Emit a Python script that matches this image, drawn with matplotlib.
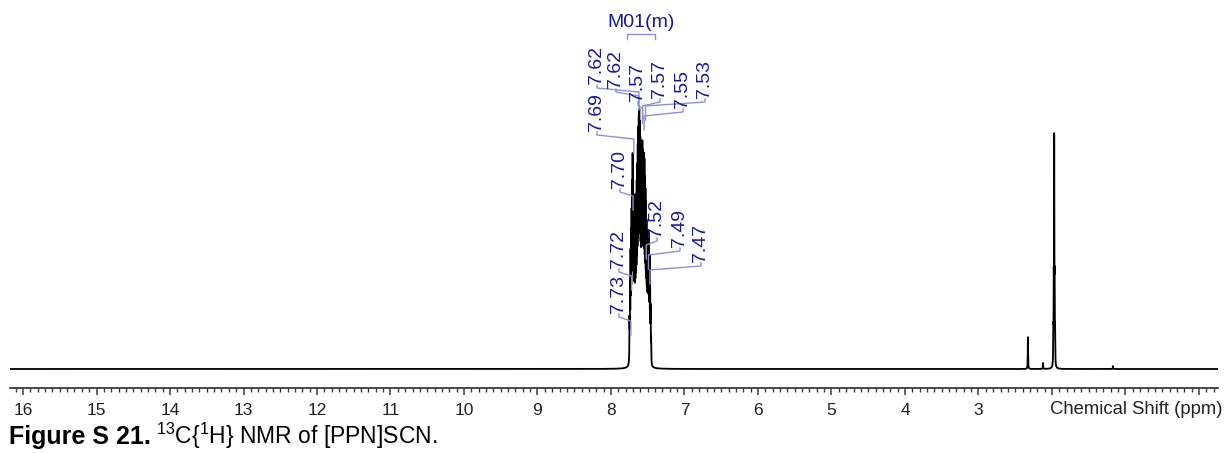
import numpy as np
import matplotlib
matplotlib.use("Agg")
import matplotlib.pyplot as plt
from matplotlib.ticker import FixedLocator, MultipleLocator, FuncFormatter

plt.rcParams['font.family'] = ['Liberation Sans', 'DejaVu Sans']
plt.rcParams['mathtext.fontset'] = 'custom'
plt.rcParams['mathtext.rm'] = 'Liberation Sans'
plt.rcParams['mathtext.it'] = 'Liberation Sans:italic'
plt.rcParams['mathtext.bf'] = 'Liberation Sans:bold'

# --- data (ppm, intensity in arbitrary units) ---
multiplet_ppm = [7.748, 7.741, 7.734, 7.727, 7.720, 7.713, 7.706, 7.699, 7.692,
                 7.685, 7.678, 7.671, 7.664, 7.657, 7.650, 7.643, 7.636, 7.629,
                 7.622, 7.615, 7.608, 7.601, 7.594, 7.587, 7.580, 7.573, 7.566,
                 7.559, 7.552, 7.545, 7.538, 7.531, 7.524, 7.517, 7.510, 7.503,
                 7.496, 7.489, 7.482, 7.475, 7.468, 7.461, 7.454]
multiplet_int = [40, 70, 95, 110, 125, 150, 175, 160, 135,
                 120, 110, 115, 125, 135, 145, 160, 175, 190,
                 200, 205, 195, 180, 165, 160, 175, 180, 170,
                 165, 170, 165, 150, 140, 130, 115, 105, 100,
                 105, 110, 95, 90, 80, 50, 22]

solvent_ppm = [1.958, 1.964, 1.970, 1.976, 1.982]
solvent_int = [30, 70, 218, 70, 30]

small_ppm = [2.327, 2.122, 1.17]
small_int = [32, 6, 3]

peak_labels = ["7.62", "7.69", "7.62", "7.57", "7.57", "7.55", "7.53",
               "7.70", "7.72", "7.73", "7.52", "7.49", "7.47"]
peak_label_ppm = [7.62, 7.69, 7.62, 7.57, 7.57, 7.55, 7.53,
                  7.70, 7.72, 7.73, 7.52, 7.49, 7.47]

multiplet_name = "M01(m)"
multiplet_range = (7.78, 7.40)

major_ticks = list(range(0, 17))
labelled_ticks = list(range(3, 17))

# ---------------------------------------------------------------
W, H = 1224, 453
fig = plt.figure(figsize=(W / 100, H / 100), dpi=100)

# axes placed in pixels: baseline at y=369, axis line at y=388
ax = fig.add_axes([10 / W, (H - 388) / H, 1208 / W, 388 / H])
ax.set_xlim(16.177, -0.259)
ax.set_ylim(-19, 369)


def px2ppm(px):
    return (1199 - px) / 73.5


def py2int(py):
    return 369 - py


def lorentz(x, c, h, w):
    return h / (1 + ((x - c) / w) ** 2)


x = np.linspace(16.4, -0.5, 42000)
y = np.zeros_like(x)
for c, h in zip(multiplet_ppm, multiplet_int):
    y += lorentz(x, c, h, 0.0022)
for c, h in zip(solvent_ppm, solvent_int):
    y += lorentz(x, c, h, 0.0022)
for c, h in zip(small_ppm, small_int):
    y += lorentz(x, c, h, 0.0025)

ax.plot(x, y, color='black', lw=1.3, zorder=2)

# axis styling
for s in ['top', 'left', 'right']:
    ax.spines[s].set_visible(False)
ax.spines['bottom'].set_color('#3a3a3a')
ax.spines['bottom'].set_linewidth(1.3)
ax.yaxis.set_visible(False)
ax.xaxis.set_major_locator(FixedLocator(major_ticks))
ax.xaxis.set_minor_locator(MultipleLocator(0.1))
ax.xaxis.set_major_formatter(FuncFormatter(
    lambda v, p: str(int(round(v))) if int(round(v)) in labelled_ticks else ""))
ax.tick_params(axis='x', which='major', length=5, width=1.1, color='#3a3a3a',
               labelsize=12.5, pad=5.5, labelcolor='#222222')
ax.tick_params(axis='x', which='minor', length=3.2, width=1.0, color='#3a3a3a')

fig.text(1222 / W, (H - 409) / H, "Chemical Shift (ppm)", ha='right', va='center',
         fontsize=13.3, color='#222222')

# --- peak labels ---
lab_color = '#1a1a8a'
line_color = '#9090cc'
# label centre x and bottom y, in pixels
label_pos = [(597, 84), (597, 131), (616, 88), (638, 101), (660, 98), (683, 108), (705, 98),
             (620, 188), (619, 268), (619, 313), (657, 237), (680, 247), (701, 262)]
for txt, p, (lx, lb) in zip(peak_labels, peak_label_ppm, label_pos):
    ax.text(px2ppm(lx), py2int(lb), txt, rotation=90, ha='center', va='bottom',
            fontsize=14, color=lab_color, clip_on=False, zorder=4)
    pk = 1199 - 73.5 * p
    xs = [lx, lx, pk, pk]
    ys = [lb + 1, lb + 4, lb + 8, lb + 22]
    ax.plot([px2ppm(v) for v in xs], [py2int(v) for v in ys], color=line_color,
            lw=1.0, zorder=3, clip_on=False)

# multiplet bracket
x0, x1 = multiplet_range
bx = [x0, x0, x1, x1]
by = [py2int(39), py2int(34), py2int(34), py2int(39)]
ax.plot(bx, by, color=line_color, lw=1.0, clip_on=False, zorder=3)
ax.text((x0 + x1) / 2, py2int(31), multiplet_name, ha='center', va='bottom',
        fontsize=14, color=lab_color, clip_on=False)

# caption
fig.text(9 / W, (H - 444) / H, "Figure S 21.", fontsize=18, fontweight='bold',
         va='baseline', ha='left')
fig.text(156 / W, (H - 444) / H, r"$^{13}$C{$^{1}$H} NMR of [PPN]SCN.", fontsize=16.5,
         va='baseline', ha='left')

fig.savefig("out.png", dpi=100)
